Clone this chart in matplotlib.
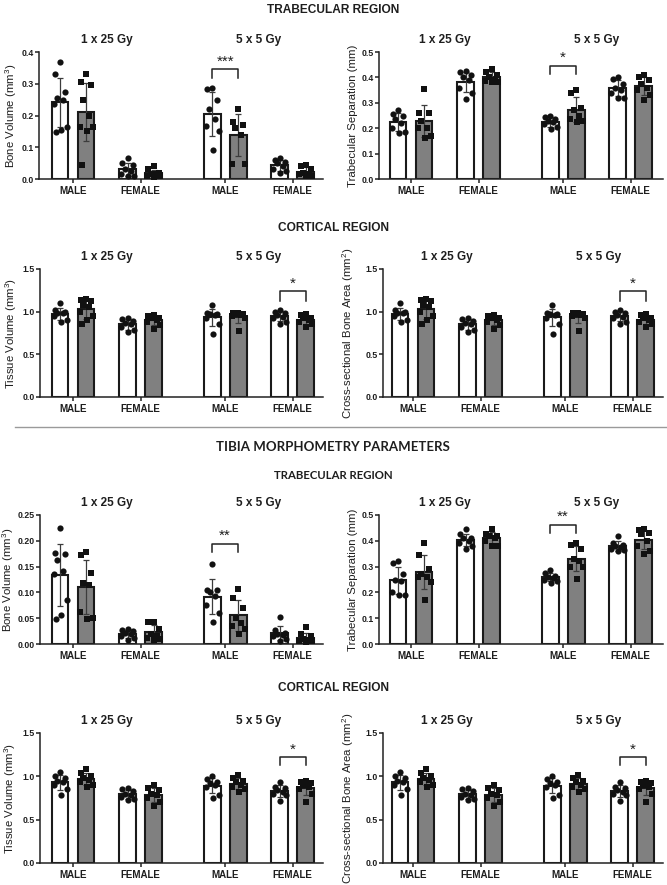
import numpy as np
import matplotlib
matplotlib.use('Agg')
import matplotlib.pyplot as plt
from matplotlib.lines import Line2D
import matplotlib.transforms as mtransforms

plt.rcParams['font.family'] = ['Liberation Sans', 'DejaVu Sans']
plt.rcParams['mathtext.default'] = 'regular'

doses = ['1 x 25 Gy', '5 x 5 Gy']
sexes = ['MALE', 'FEMALE', 'MALE', 'FEMALE']

# bar order: 1x25 male (ctrl, irr), 1x25 female (ctrl, irr), 5x5 male (ctrl, irr), 5x5 female (ctrl, irr)
femur_bv = [
    [0.37, 0.33, 0.275, 0.255, 0.248, 0.235, 0.165, 0.155, 0.148],
    [0.33, 0.305, 0.295, 0.25, 0.2, 0.165, 0.165, 0.15, 0.045],
    [0.065, 0.05, 0.045, 0.03, 0.025, 0.015, 0.01, 0.01],
    [0.04, 0.03, 0.02, 0.015, 0.01, 0.01, 0.005, 0.015],
    [0.288, 0.285, 0.25, 0.222, 0.19, 0.167, 0.152, 0.09],
    [0.222, 0.178, 0.17, 0.16, 0.14, 0.048, 0.048],
    [0.065, 0.06, 0.055, 0.05, 0.04, 0.03, 0.025, 0.02],
    [0.045, 0.04, 0.03, 0.02, 0.015, 0.01, 0.01, 0.015],
]
femur_tbsp = [
    [0.27, 0.255, 0.25, 0.235, 0.22, 0.2, 0.18, 0.185],
    [0.355, 0.26, 0.26, 0.23, 0.2, 0.2, 0.17, 0.16],
    [0.425, 0.42, 0.41, 0.4, 0.39, 0.36, 0.338, 0.315],
    [0.435, 0.42, 0.41, 0.4, 0.39, 0.385, 0.38, 0.38],
    [0.25, 0.245, 0.235, 0.23, 0.225, 0.215, 0.205, 0.195],
    [0.35, 0.34, 0.28, 0.27, 0.25, 0.235, 0.23, 0.225],
    [0.4, 0.395, 0.375, 0.36, 0.35, 0.34, 0.32, 0.32],
    [0.41, 0.4, 0.39, 0.375, 0.36, 0.35, 0.33, 0.31],
]
femur_tv = [
    [1.1, 1.02, 1.0, 0.99, 0.98, 0.95, 0.9, 0.88],
    [1.15, 1.14, 1.12, 1.08, 1.05, 1.0, 0.95, 0.9, 0.85],
    [0.93, 0.91, 0.89, 0.87, 0.85, 0.82, 0.78, 0.76],
    [0.96, 0.95, 0.93, 0.92, 0.9, 0.88, 0.84, 0.8],
    [1.08, 0.98, 0.97, 0.97, 0.96, 0.93, 0.85, 0.74],
    [0.99, 0.98, 0.97, 0.97, 0.96, 0.95, 0.93, 0.77],
    [1.02, 1.0, 0.98, 0.96, 0.94, 0.92, 0.88, 0.85],
    [0.97, 0.96, 0.93, 0.92, 0.9, 0.88, 0.85, 0.82],
]
femur_csba = femur_tv  # same values in the figure

tibia_bv = [
    [0.225, 0.177, 0.175, 0.162, 0.141, 0.135, 0.085, 0.056, 0.048],
    [0.179, 0.172, 0.137, 0.118, 0.115, 0.062, 0.048, 0.05],
    [0.03, 0.028, 0.025, 0.022, 0.02, 0.015, 0.012, 0.008],
    [0.042, 0.042, 0.03, 0.02, 0.015, 0.012, 0.01, 0.008],
    [0.155, 0.105, 0.105, 0.1, 0.093, 0.076, 0.06, 0.042],
    [0.107, 0.09, 0.07, 0.05, 0.04, 0.035, 0.03, 0.02],
    [0.052, 0.028, 0.022, 0.02, 0.018, 0.015, 0.01, 0.005],
    [0.032, 0.02, 0.015, 0.01, 0.005, 0.003, 0.005, 0.008],
]
tibia_tbsp = [
    [0.32, 0.315, 0.27, 0.25, 0.245, 0.2, 0.19, 0.19],
    [0.39, 0.345, 0.29, 0.27, 0.26, 0.26, 0.24, 0.171],
    [0.445, 0.425, 0.41, 0.41, 0.4, 0.39, 0.38, 0.37],
    [0.445, 0.425, 0.42, 0.42, 0.41, 0.4, 0.38, 0.38],
    [0.285, 0.275, 0.265, 0.26, 0.255, 0.25, 0.245, 0.235],
    [0.39, 0.385, 0.37, 0.33, 0.32, 0.3, 0.3, 0.251],
    [0.42, 0.39, 0.385, 0.38, 0.375, 0.37, 0.365, 0.36],
    [0.445, 0.44, 0.43, 0.425, 0.4, 0.38, 0.36, 0.35],
]
tibia_tv = [
    [1.05, 1.0, 0.98, 0.95, 0.93, 0.9, 0.85, 0.78],
    [1.08, 1.04, 1.0, 0.98, 0.96, 0.93, 0.9, 0.88],
    [0.86, 0.85, 0.83, 0.8, 0.78, 0.76, 0.74, 0.73],
    [0.9, 0.87, 0.84, 0.8, 0.78, 0.75, 0.7, 0.66],
    [1.0, 0.97, 0.94, 0.92, 0.9, 0.88, 0.78, 0.75],
    [1.02, 0.98, 0.95, 0.93, 0.9, 0.88, 0.85, 0.82],
    [0.94, 0.88, 0.86, 0.84, 0.82, 0.8, 0.78, 0.72],
    [0.95, 0.94, 0.92, 0.9, 0.88, 0.85, 0.8, 0.7],
]
tibia_csba = tibia_tv  # same values in the figure

W, H = 667, 885
fig = plt.figure(figsize=(W / 100, H / 100), dpi=100)

pos = np.array([0, 1, 2.6, 3.6, 5.85, 6.85, 8.45, 9.45])
offs = np.array([0, -0.2, 0.2, -0.1, 0.12, -0.25, 0.25, 0.02, -0.15])
UNIT = 26.0  # pixels per x unit
TXT = '#1e1e1e'
NARROW = ['Liberation Sans Narrow', 'Lato', 'DejaVu Sans']


def panel(box, data, ymax, ystep, ylabel, sig, fmt='%.1f', first=20, lab_x=13):
    left, right, top, bottom = box
    wpx, hpx = right - left, bottom - top
    ax = fig.add_axes([left / W, 1 - bottom / H, wpx / W, hpx / H])
    ax.set_xlim(-first / UNIT, (wpx - first) / UNIT)
    ax.set_ylim(0, ymax)
    for i, v in enumerate(data):
        v = np.sort(np.array(v))[::-1]
        m, sd = v.mean(), v.std(ddof=1)
        fc = 'white' if i % 2 == 0 else '#808080'
        ax.bar(pos[i], m, width=0.65, color=fc, edgecolor='#1a1a1a', linewidth=1.5, zorder=2)
        ax.errorbar(pos[i], m, yerr=sd, fmt='none', ecolor='#3c3c3c', elinewidth=0.9,
                    capsize=2.5, capthick=0.9, zorder=3)
        ax.scatter(pos[i] + offs[:len(v)], v, marker='o' if i % 2 == 0 else 's',
                   s=20 if i % 2 == 0 else 17, color='#111111', linewidths=0, zorder=4, clip_on=False)

    # significance bracket
    i1, i2, ytop, ytick, stars = sig
    ax.plot([pos[i1], pos[i1], pos[i2], pos[i2]], [ytick, ytop, ytop, ytick],
            color='#222222', lw=1.1, clip_on=False, zorder=5)
    ax.annotate(stars, ((pos[i1] + pos[i2]) / 2, ytop), xytext=(0, 0.5), textcoords='offset points',
                ha='center', va='bottom', fontsize=11, color=TXT)

    for sp in ['top', 'right']:
        ax.spines[sp].set_visible(False)
    for sp in ['left', 'bottom']:
        ax.spines[sp].set_linewidth(1.1)
        ax.spines[sp].set_color('#222222')

    yt = np.arange(0, ymax + ystep / 2, ystep)
    ax.set_yticks(yt)
    ax.set_yticklabels([fmt % t for t in yt], fontsize=6.3, fontweight='bold', color=TXT)
    ax.set_xticks([(pos[0] + pos[1]) / 2, (pos[2] + pos[3]) / 2, (pos[4] + pos[5]) / 2, (pos[6] + pos[7]) / 2])
    ax.set_xticklabels(sexes, fontsize=7, fontweight='bold', color=TXT)
    ax.tick_params(length=3, width=1.1, color='#222222')
    ax.tick_params(axis='y', pad=1)
    ax.tick_params(axis='x', pad=2)
    ax.set_ylabel(ylabel, fontsize=8.2, color=TXT)
    ax.yaxis.set_label_coords(-(left - lab_x - 6) / wpx, 0.5)

    trans = mtransforms.blended_transform_factory(ax.transData, ax.transAxes)
    ax.text((pos[0] + pos[3]) / 2, 1 + 12 / hpx, doses[0], transform=trans, ha='center', va='center',
            fontsize=8.5, fontweight='bold', color=TXT)
    ax.text((pos[4] + pos[7]) / 2, 1 + 12 / hpx, doses[1], transform=trans, ha='center', va='center',
            fontsize=8.5, fontweight='bold', color=TXT)
    return ax


# femur
panel((39, 323, 52, 179), femur_bv, 0.4, 0.1, 'Bone Volume (mm$^3$)', (4, 5, 0.345, 0.318, '***'),
      first=21, lab_x=13)
panel((379, 663, 52, 179), femur_tbsp, 0.5, 0.1, 'Trabecular Separation (mm)', (4, 5, 0.445, 0.415, '*'),
      first=19, lab_x=352)
panel((40, 323, 269, 397), femur_tv, 1.5, 0.5, 'Tissue Volume (mm$^3$)', (6, 7, 1.24, 1.13, '*'),
      first=20, lab_x=13)
panel((383, 663, 269, 397), femur_csba, 1.5, 0.5, 'Cross-sectional Bone Area (mm$^2$)', (6, 7, 1.24, 1.13, '*'),
      first=17, lab_x=350)

# tibia
panel((40, 323, 515, 644), tibia_bv, 0.25, 0.05, 'Bone Volume (mm$^3$)', (4, 5, 0.194, 0.178, '**'),
      fmt='%.2f', first=20, lab_x=10)
panel((379, 663, 515, 644), tibia_tbsp, 0.5, 0.1, 'Trabecular Separation (mm)', (4, 5, 0.462, 0.43, '**'),
      first=19, lab_x=352)
panel((40, 323, 733, 863), tibia_tv, 1.5, 0.5, 'Tissue Volume (mm$^3$)', (6, 7, 1.22, 1.13, '*'),
      first=20, lab_x=12)
panel((383, 663, 733, 863), tibia_csba, 1.5, 0.5, 'Cross-sectional Bone Area (mm$^2$)', (6, 7, 1.22, 1.13, '*'),
      first=17, lab_x=350)

# section headings
fig.text(333 / W, 1 - 10 / H, 'TRABECULAR REGION', ha='center', va='center', fontsize=8.6,
         fontweight='bold', color=TXT)
fig.text(333 / W, 1 - 228 / H, 'CORTICAL REGION', ha='center', va='center', fontsize=8.6,
         fontweight='bold', color=TXT)
fig.add_artist(Line2D([15 / W, 1], [1 - 427 / H, 1 - 427 / H], color='#9a9a9a', lw=1))
fig.text(333 / W, 1 - 447 / H, 'TIBIA MORPHOMETRY PARAMETERS', ha='center', va='center', fontsize=9.5,
         fontweight='bold', color=TXT, family=NARROW)
fig.text(333 / W, 1 - 475 / H, 'TRABECULAR REGION', ha='center', va='center', fontsize=8.2,
         fontweight='bold', color=TXT, family=NARROW)
fig.text(333 / W, 1 - 688 / H, 'CORTICAL REGION', ha='center', va='center', fontsize=8.6,
         fontweight='bold', color=TXT)

fig.savefig('out.png', dpi=100)
